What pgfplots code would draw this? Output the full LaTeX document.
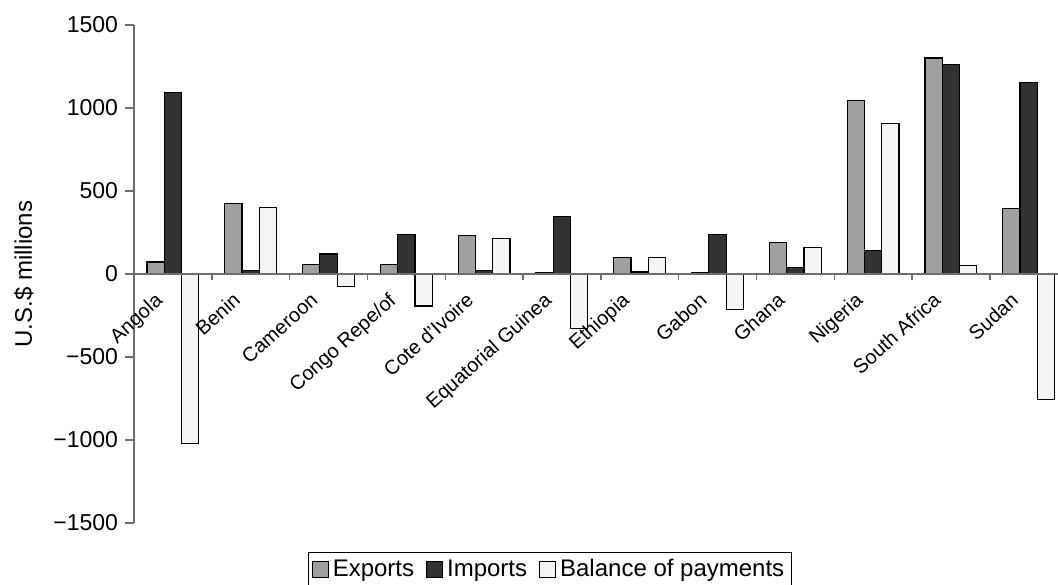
\documentclass[border=0pt]{standalone}
\usepackage{fontspec}
\setmainfont{Liberation Sans}
\usepackage{pgfplots}
\usepackage{pgfplotstable}
\pgfplotsset{compat=1.18}

\definecolor{expc}{RGB}{160,160,160}
\definecolor{impc}{RGB}{50,50,50}
\definecolor{balc}{RGB}{245,245,245}
\definecolor{axc}{RGB}{110,110,110}

\pgfplotstableread{
x exp imp bal
0 72 1092 -1020
1 427 20 403
2 55 120 -73
3 55 239 -193
4 230 20 212
5 10 348 -326
6 101 12 101
7 10 239 -216
8 188 41 160
9 1046 141 907
10 1301 1263 52
11 396 1155 -758
}\datatab

\newcommand{\tickfont}{\fontsize{11.5}{13}\selectfont}
\newcommand{\catfont}{\fontsize{10}{12}\selectfont}
\newcommand{\labfont}{\fontsize{12}{14}\selectfont}

\begin{document}
\begin{tikzpicture}
\begin{axis}[
  scale only axis, width=466.8pt, height=249pt,
  xmin=-0.5, xmax=11.5, ymin=-1500, ymax=1500,
  axis on top,
  axis y line=left, axis x line=middle,
  axis line style={-, draw=axc, line width=0.6pt},
  hide obscured x ticks=false, hide obscured y ticks=false,
  ybar=0pt, bar width=8.65pt,
  xtick={0,...,11},
  xticklabels={Angola,Benin,Cameroon,{Congo Repe/of},{Cote d'Ivoire},{Equatorial Guinea},Ethiopia,Gabon,Ghana,Nigeria,{South Africa},Sudan},
  x tick label style={xshift=-9.5pt, yshift=-4pt, rotate=42, anchor=north east, inner sep=0pt, font=\catfont},
  major x tick style={draw=none},
  minor xtick={-0.5,0.5,...,11.5},
  minor x tick style={draw=axc, line width=0.7pt},
  minor tick length=3pt,
  xtick align=outside,
  ytick={-1500,-1000,-500,0,500,1000,1500},
  yticklabels={{−1500},{−1000},{−500},0,500,1000,1500},
  ytick align=outside,
  major tick length=4.5pt,
  y tick style={draw=axc, line width=0.7pt},
  y tick label style={font=\tickfont},
  ylabel={U.S.\$ millions},
  ylabel style={at={(axis description cs:-0.118,0.5)}, anchor=center, font=\labfont},
  legend style={at={(axis description cs:0.4456,-0.058)}, anchor=north, legend columns=-1, draw=black, line width=0.5pt, font=\labfont, inner sep=1.5pt, /tikz/every even column/.append style={column sep=4pt}},
  legend image code/.code={\draw[#1, line width=0.5pt] (0pt,-4pt) rectangle (8pt,4pt);},
]
\addplot[fill=expc, draw=black, line width=0.6pt] table[x=x, y=exp] {\datatab};
\addplot[fill=impc, draw=black, line width=0.6pt] table[x=x, y=imp] {\datatab};
\addplot[fill=balc, draw=black, line width=0.6pt] table[x=x, y=bal] {\datatab};
\legend{Exports, Imports, Balance of payments}
\end{axis}
\pgfresetboundingbox
\path[use as bounding box] ([shift={(-67pt,-30.5pt)}]current axis.south west) rectangle ([shift={(462pt,261.5pt)}]current axis.south west);
\end{tikzpicture}
\end{document}
